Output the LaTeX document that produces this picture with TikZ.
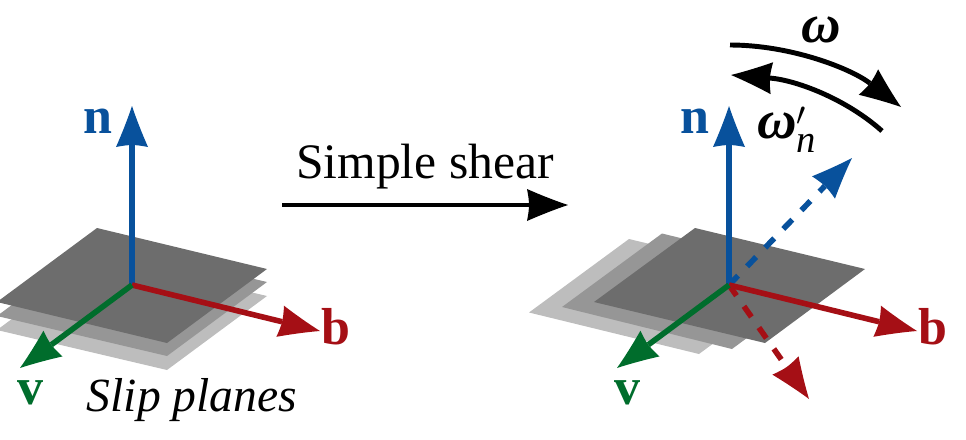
\documentclass[tikz,border=0pt]{standalone}
\usepackage{fontspec}
\setmainfont{Liberation Serif}
\usetikzlibrary{arrows.meta}
\pgfdeclarearrow{
  name=Vane,
  setup code={
    \pgfarrowssettipend{30.75pt}
    \pgfarrowssetlineend{1.5pt}
    \pgfarrowssetvisualbackend{0pt}
    \pgfarrowssetbackend{0pt}
    \pgfarrowshullpoint{30.75pt}{0pt}
    \pgfarrowsupperhullpoint{0pt}{12pt}
  },
  drawing code={
    \pgfpathmoveto{\pgfpoint{30.75pt}{0pt}}
    \pgfpathcurveto{\pgfpoint{21pt}{3.2pt}}{\pgfpoint{9pt}{8pt}}{\pgfpoint{0pt}{12pt}}
    \pgfpathcurveto{\pgfpoint{1pt}{7pt}}{\pgfpoint{1.5pt}{3pt}}{\pgfpoint{1.5pt}{0pt}}
    \pgfpathcurveto{\pgfpoint{1.5pt}{-3pt}}{\pgfpoint{1pt}{-7pt}}{\pgfpoint{0pt}{-12pt}}
    \pgfpathcurveto{\pgfpoint{9pt}{-8pt}}{\pgfpoint{21pt}{-3.2pt}}{\pgfpoint{30.75pt}{0pt}}
    \pgfusepathqfill
  }
}
\definecolor{nblue}{HTML}{08519C}
\definecolor{bred}{HTML}{A50F15}
\definecolor{vgreen}{HTML}{006D2C}
\definecolor{planedark}{HTML}{6D6D6D}
\definecolor{planemid}{HTML}{969696}
\definecolor{planelight}{HTML}{BDBDBD}

\begin{document}
\begin{tikzpicture}[
x=.75pt,y=-.75pt,
axis/.style={line width=4.2pt,-{Vane}},
sweep/.style={line width=3.7pt,-{Vane}},
dashaxis/.style={axis,dash pattern=on 9.75pt off 9.75pt},
label/.style={inner sep=0pt,font=\fontsize{39}{39}\selectfont\bfseries},
caption/.style={inner sep=0pt,anchor=base,font=\fontsize{37.2}{40}\selectfont},
rate/.style={inner sep=0pt,anchor=base,font=\fontsize{41}{41}\selectfont\bfseries\itshape}
]
\useasboundingbox (0,0) rectangle (966,439);

% left stack
\fill[planelight] (97,256) -- (267,296) -- (167,370) -- (-3,330) -- cycle;
\fill[planemid] (97,242) -- (267,282) -- (167,356) -- (-3,316) -- cycle;
\fill[planedark] (97,228) -- (267,269) -- (167,343) -- (-3,302) -- cycle;

\coordinate (oleft) at (132,285);
\coordinate (nleft) at (132,106);
\coordinate (bleft) at (320,331);
\coordinate (vleft) at (20,368);
\draw[axis,nblue] (oleft) -- (nleft);
\draw[axis,bred] (oleft) -- (bleft);
\draw[axis,vgreen] (oleft) -- (vleft);
\node[label,nblue] (nlabelleft) at (98,121) {n};
\node[label,bred] (blabelleft) at (336,327) {b};
\node[label,vgreen] (vlabelleft) at (30,393) {v};
\node[caption,font=\fontsize{35.7}{40}\selectfont] (slip) at (192,411) {\itshape Slip planes};

% shear arrow
\coordinate (shearstart) at (282,205);
\coordinate (shearend) at (568,205);
\draw[sweep] (shearstart) -- (shearend);
\node[caption] (shear) at (425,178) {Simple shear};

% right stack
\fill[planelight] (629,239) -- (799,280) -- (699,354) -- (529,312.5) -- cycle;
\fill[planemid] (662,233.5) -- (832,275) -- (732,349) -- (562,307) -- cycle;
\fill[planedark] (695,228) -- (865,269) -- (765,343) -- (594,302) -- cycle;

\coordinate (oright) at (729,285);
\coordinate (nright) at (729,106);
\coordinate (bright) at (917,331);
\coordinate (vright) at (617,368);
\coordinate (ndash) at (852,158);
\coordinate (bdash) at (809,399);
\draw[dashaxis,nblue] (oright) -- (ndash);
\draw[dashaxis,bred] (oright) -- (bdash);
\draw[axis,nblue] (oright) -- (nright);
\draw[axis,bred] (oright) -- (bright);
\draw[axis,vgreen] (oright) -- (vright);
\node[label,nblue] (nlabelright) at (695,121) {n};
\node[label,bred] (blabelright) at (933,327) {b};
\node[label,vgreen] (vlabelright) at (627,393) {v};

% rotation arcs
\coordinate (wstart) at (730,45);
\coordinate (wend) at (901,107);
\coordinate (wnstart) at (882,131);
\coordinate (wnend) at (731,75);
\draw[sweep] (wstart) .. controls (790,45) and (850,68) .. (wend);
\draw[sweep] (wnstart) .. controls (845,98) and (795,80) .. (wnend);
\node[rate] (omega) at (821,42) {ω};
\node[rate,anchor=base west] (omegan) at (757,138) {ω\rlap{\fontsize{54}{54}\selectfont$'$}\raisebox{-11pt}{\fontsize{29}{29}\selectfont\mdseries n}};
\end{tikzpicture}
\end{document}
